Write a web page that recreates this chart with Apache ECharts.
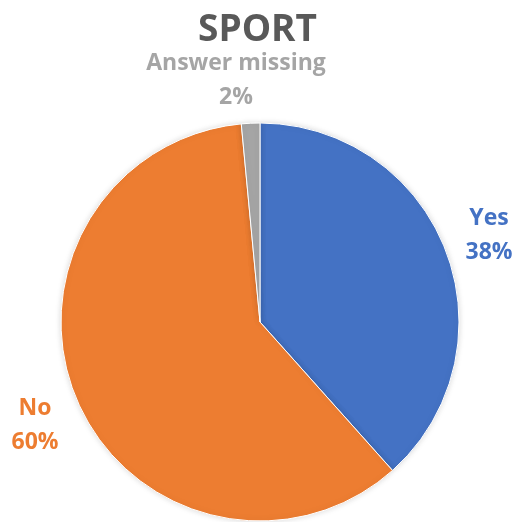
<!DOCTYPE html>
<html><head><meta charset="utf-8">
<script src="https://cdn.jsdelivr.net/npm/echarts@6/dist/echarts.min.js"></script>
<style>html,body{margin:0;padding:0;background:#fff}#c{width:515px;height:522px}</style>
</head><body><div id="c"></div>
<script>
const categories = ['Yes', 'No', 'Answer missing'];
const values = [38.4, 60.1, 1.5];
const colors = ['#4472C4', '#ED7D31', '#A5A5A5'];
const labelPos = [[489, 235], [35, 425], [236, 80]];

const chart = echarts.init(document.getElementById('c'));
chart.setOption({
  animation: false,
  title: {
    text: 'SPORT', left: 'center', top: 7,
    textStyle: { fontFamily: 'Open Sans', fontWeight: 'bold', fontSize: 37, color: '#595959' }
  },
  series: [{
    type: 'pie',
    center: [260, 322],
    radius: 199,
    startAngle: 90,
    clockwise: true,
    avoidLabelOverlap: false,
    data: categories.map((c, i) => ({ name: c, value: values[i], itemStyle: { color: colors[i] },
      label: { color: colors[i] } })),
    itemStyle: { borderColor: '#fff', borderWidth: 1, shadowBlur: 6, shadowColor: 'rgba(0,0,0,0.15)' },
    label: {
      show: true, position: 'outside', overflow: 'none', width: 300,
      formatter: p => p.name + '\n' + Math.round(p.percent) + '%',
      fontFamily: 'Open Sans', fontWeight: 'bold', fontSize: 23, lineHeight: 34, align: 'center'
    },
    labelLine: { show: false },
    labelLayout: p => ({ x: labelPos[p.dataIndex][0], y: labelPos[p.dataIndex][1], align: 'center', verticalAlign: 'middle', hideOverlap: false })
  }]
});
</script></body></html>
